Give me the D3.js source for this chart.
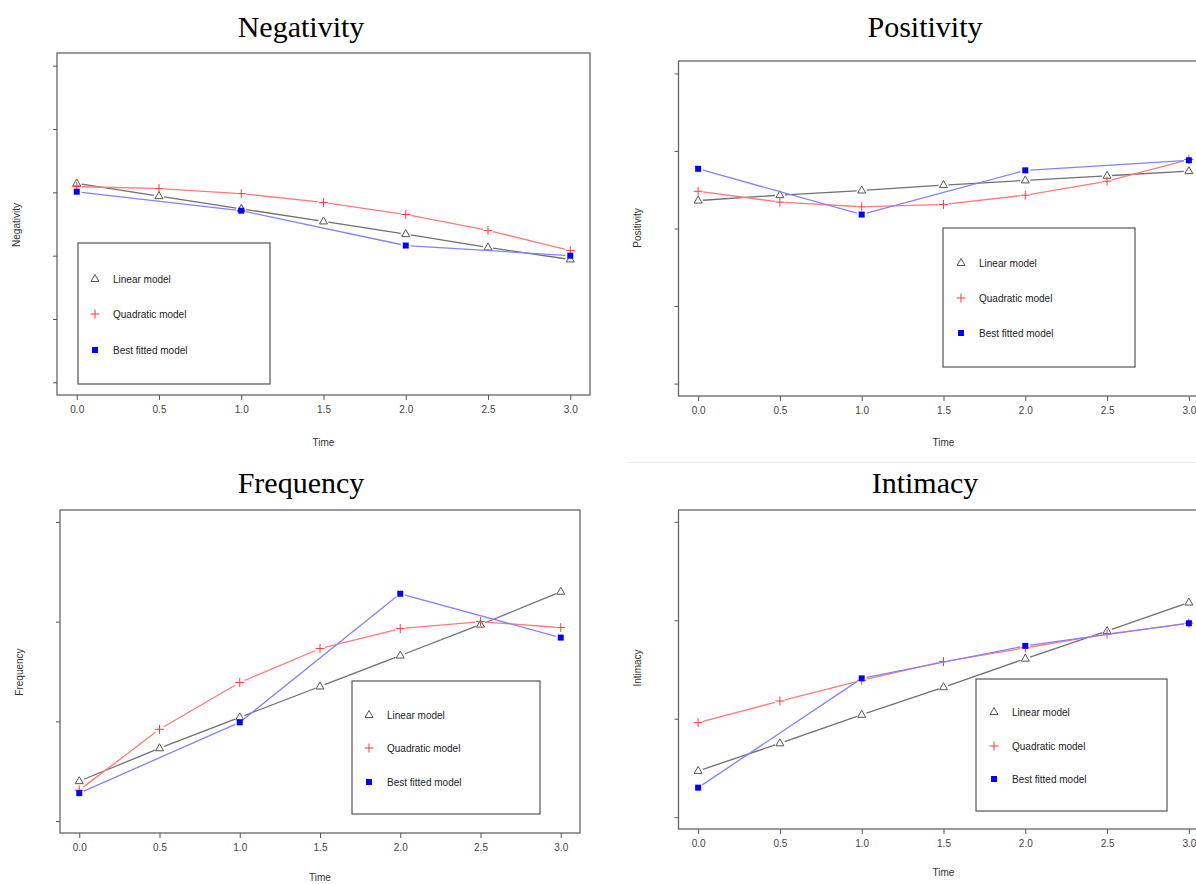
<!DOCTYPE html>
<html>
<head>
<meta charset="utf-8">
<script src="https://cdn.jsdelivr.net/npm/d3@7"></script>
<style>
  body { margin: 0; background: #fff; }
  svg { display: block; }
  text { font-family: "Liberation Sans", Arial, sans-serif; }
</style>
</head>
<body>
<div id="chart"></div>
<script>
/**
 * DATA (y units are arbitrary, the original axis labels are not shown)
 * */
const times = [0, 0.5, 1, 1.5, 2, 2.5, 3];
const bestTimes = [0, 1, 2, 3];
const xTicks = [0, 0.5, 1, 1.5, 2, 2.5, 3];

const titles = ["Negativity", "Positivity", "Frequency", "Intimacy"];
const yTickSets = [[1, 2, 3, 4, 5, 6], [1, 2, 3, 4, 5], [1, 2, 3, 4], [1, 2, 3, 4]];
const legendLabels = ["Linear model", "Quadratic model", "Best fitted model"];

const negLinear = [4.14, 3.94, 3.74, 3.54, 3.34, 3.13, 2.94];
const negQuad   = [4.09, 4.06, 3.98, 3.84, 3.65, 3.40, 3.08];
const negBest   = [4.01, 3.71, 3.16, 3.00];

const posLinear = [3.36, 3.43, 3.49, 3.56, 3.62, 3.68, 3.74];
const posQuad   = [3.48, 3.34, 3.28, 3.31, 3.43, 3.61, 3.89];
const posBest   = [3.77, 3.18, 3.75, 3.88];

const freqLinear = [1.40, 1.73, 2.04, 2.35, 2.66, 2.97, 3.30];
const freqQuad   = [1.31, 1.92, 2.39, 2.73, 2.93, 3.00, 2.94];
const freqBest   = [1.28, 1.99, 3.28, 2.84];

const intLinear = [1.47, 1.75, 2.04, 2.32, 2.61, 2.89, 3.18];
const intQuad   = [1.96, 2.18, 2.39, 2.58, 2.72, 2.86, 2.97];
const intBest   = [1.30, 2.41, 2.74, 2.97];

/**
 * LAYOUT
 * */
const width = 1196, height = 884;

const panels = [
  { title: titles[0], ticks: yTickSets[0], lin: negLinear, quad: negQuad, best: negBest,
    box: { x0: 57, x1: 590, y0: 53, y1: 395 }, titleX: 301, titleY: 37,
    ylabX: 20, ylabY: 225, timeY: 446, legend: { x0: 78, x1: 270, y0: 243, y1: 384, sx: 95, tx: 113, ys: [279, 314, 350] } },
  { title: titles[1], ticks: yTickSets[1], lin: posLinear, quad: posQuad, best: posBest,
    box: { x0: 678.5, x1: 1208.5, y0: 61, y1: 396 }, titleX: 925, titleY: 37,
    ylabX: 641, ylabY: 228, timeY: 446, legend: { x0: 943, x1: 1135, y0: 228, y1: 367, sx: 961, tx: 979, ys: [263, 298, 333] } },
  { title: titles[2], ticks: yTickSets[2], lin: freqLinear, quad: freqQuad, best: freqBest,
    box: { x0: 60, x1: 580, y0: 510, y1: 833 }, titleX: 301, titleY: 493,
    ylabX: 23, ylabY: 672, timeY: 881, legend: { x0: 352, x1: 540, y0: 681, y1: 814, sx: 369, tx: 387, ys: [715, 748, 782] } },
  { title: titles[3], ticks: yTickSets[3], lin: intLinear, quad: intQuad, best: intBest,
    box: { x0: 678.5, x1: 1208.5, y0: 510, y1: 829 }, titleX: 925, titleY: 493,
    ylabX: 641, ylabY: 668, timeY: 876, legend: { x0: 976, x1: 1167, y0: 679, y1: 811, sx: 994, tx: 1012, ys: [712, 746, 779] } }
];

const styles = {
  lin:  { line: "#707070", mark: "#555555" },
  quad: { line: "#ff7a7a", mark: "#ff3b3b" },
  best: { line: "#8282ff", mark: "#0000ff" }
};

const svg = d3.select("#chart").append("svg")
  .attr("width", width)
  .attr("height", height);

// faint separator seen above the lower-right panel
svg.append("line")
  .attr("x1", 628).attr("x2", width).attr("y1", 462.5).attr("y2", 462.5)
  .attr("stroke", "#ececec");

function drawMarker(g, type, x, y) {
  if (type === "lin") {
    g.append("path")
      .attr("d", `M${x},${y - 4.5}L${x + 4},${y + 2.5}L${x - 4},${y + 2.5}Z`)
      .attr("fill", "none").attr("stroke", styles.lin.mark).attr("stroke-width", 1);
  } else if (type === "quad") {
    g.append("path")
      .attr("d", `M${x - 4.5},${y}H${x + 4.5}M${x},${y - 4.5}V${y + 4.5}`)
      .attr("stroke", styles.quad.mark).attr("stroke-width", 1);
  } else {
    g.append("rect")
      .attr("x", x - 3).attr("y", y - 3).attr("width", 6).attr("height", 6)
      .attr("fill", styles.best.mark);
  }
}

// R type="b": segments stop short of each point
function drawSeries(g, xs, ys, type, x, y) {
  const pts = xs.map((t, i) => [x(t), y(ys[i])]);
  const gap = 5;
  for (let i = 0; i < pts.length - 1; i++) {
    const [ax, ay] = pts[i], [bx, by] = pts[i + 1];
    const len = Math.hypot(bx - ax, by - ay);
    if (len <= 2 * gap) continue;
    const ux = (bx - ax) / len, uy = (by - ay) / len;
    g.append("line")
      .attr("x1", ax + ux * gap).attr("y1", ay + uy * gap)
      .attr("x2", bx - ux * gap).attr("y2", by - uy * gap)
      .attr("stroke", styles[type].line).attr("stroke-width", 1.3);
  }
  pts.forEach(p => drawMarker(g, type, p[0], p[1]));
}

panels.forEach(p => {
  const g = svg.append("g");
  const b = p.box;
  const lo = d3.min(p.ticks), hi = d3.max(p.ticks);
  const pad = (hi - lo) * 0.04;

  const x = d3.scaleLinear().domain([-0.12, 3.12]).range([b.x0, b.x1]);
  const y = d3.scaleLinear().domain([lo - pad, hi + pad]).range([b.y1, b.y0]);

  // title
  g.append("text")
    .attr("x", p.titleX).attr("y", p.titleY)
    .attr("text-anchor", "middle")
    .style("font-family", "'Liberation Serif', 'Times New Roman', serif")
    .style("font-size", "30px")
    .attr("fill", "#000")
    .text(p.title);

  // x axis
  const xAxis = g.append("g")
    .attr("transform", `translate(0,${b.y1})`)
    .call(d3.axisBottom(x).tickValues(xTicks).tickSize(5).tickPadding(6).tickFormat(d3.format(".1f")));
  xAxis.select(".domain").remove();
  xAxis.selectAll("line").attr("stroke", "#555");
  xAxis.selectAll("text").style("font-size", "10px").attr("fill", "#444");

  // y axis, no labels
  const yAxis = g.append("g")
    .attr("transform", `translate(${b.x0},0)`)
    .call(d3.axisLeft(y).tickValues(p.ticks).tickSize(4).tickFormat(""));
  yAxis.select(".domain").remove();
  yAxis.selectAll("line").attr("stroke", "#555");

  // box
  g.append("rect")
    .attr("x", b.x0).attr("y", b.y0)
    .attr("width", b.x1 - b.x0).attr("height", b.y1 - b.y0)
    .attr("fill", "none").attr("stroke", "#666").attr("stroke-width", 1.3);

  // axis titles
  g.append("text")
    .attr("x", x(1.5)).attr("y", p.timeY)
    .attr("text-anchor", "middle")
    .style("font-size", "10px").attr("fill", "#333")
    .text("Time");
  g.append("text")
    .attr("transform", `translate(${p.ylabX},${p.ylabY}) rotate(-90)`)
    .attr("text-anchor", "middle")
    .style("font-size", "10px").attr("fill", "#333")
    .text(p.title);

  // series
  drawSeries(g, times, p.lin, "lin", x, y);
  drawSeries(g, times, p.quad, "quad", x, y);
  drawSeries(g, bestTimes, p.best, "best", x, y);

  // legend
  const L = p.legend;
  g.append("rect")
    .attr("x", L.x0).attr("y", L.y0)
    .attr("width", L.x1 - L.x0).attr("height", L.y1 - L.y0)
    .attr("fill", "#fff").attr("stroke", "#555").attr("stroke-width", 1.2);
  ["lin", "quad", "best"].forEach((type, i) => {
    drawMarker(g, type, L.sx, L.ys[i]);
    g.append("text")
      .attr("x", L.tx).attr("y", L.ys[i] + 3.5)
      .style("font-size", "10px").attr("fill", "#222")
      .text(legendLabels[i]);
  });
});
</script>
</body>
</html>
